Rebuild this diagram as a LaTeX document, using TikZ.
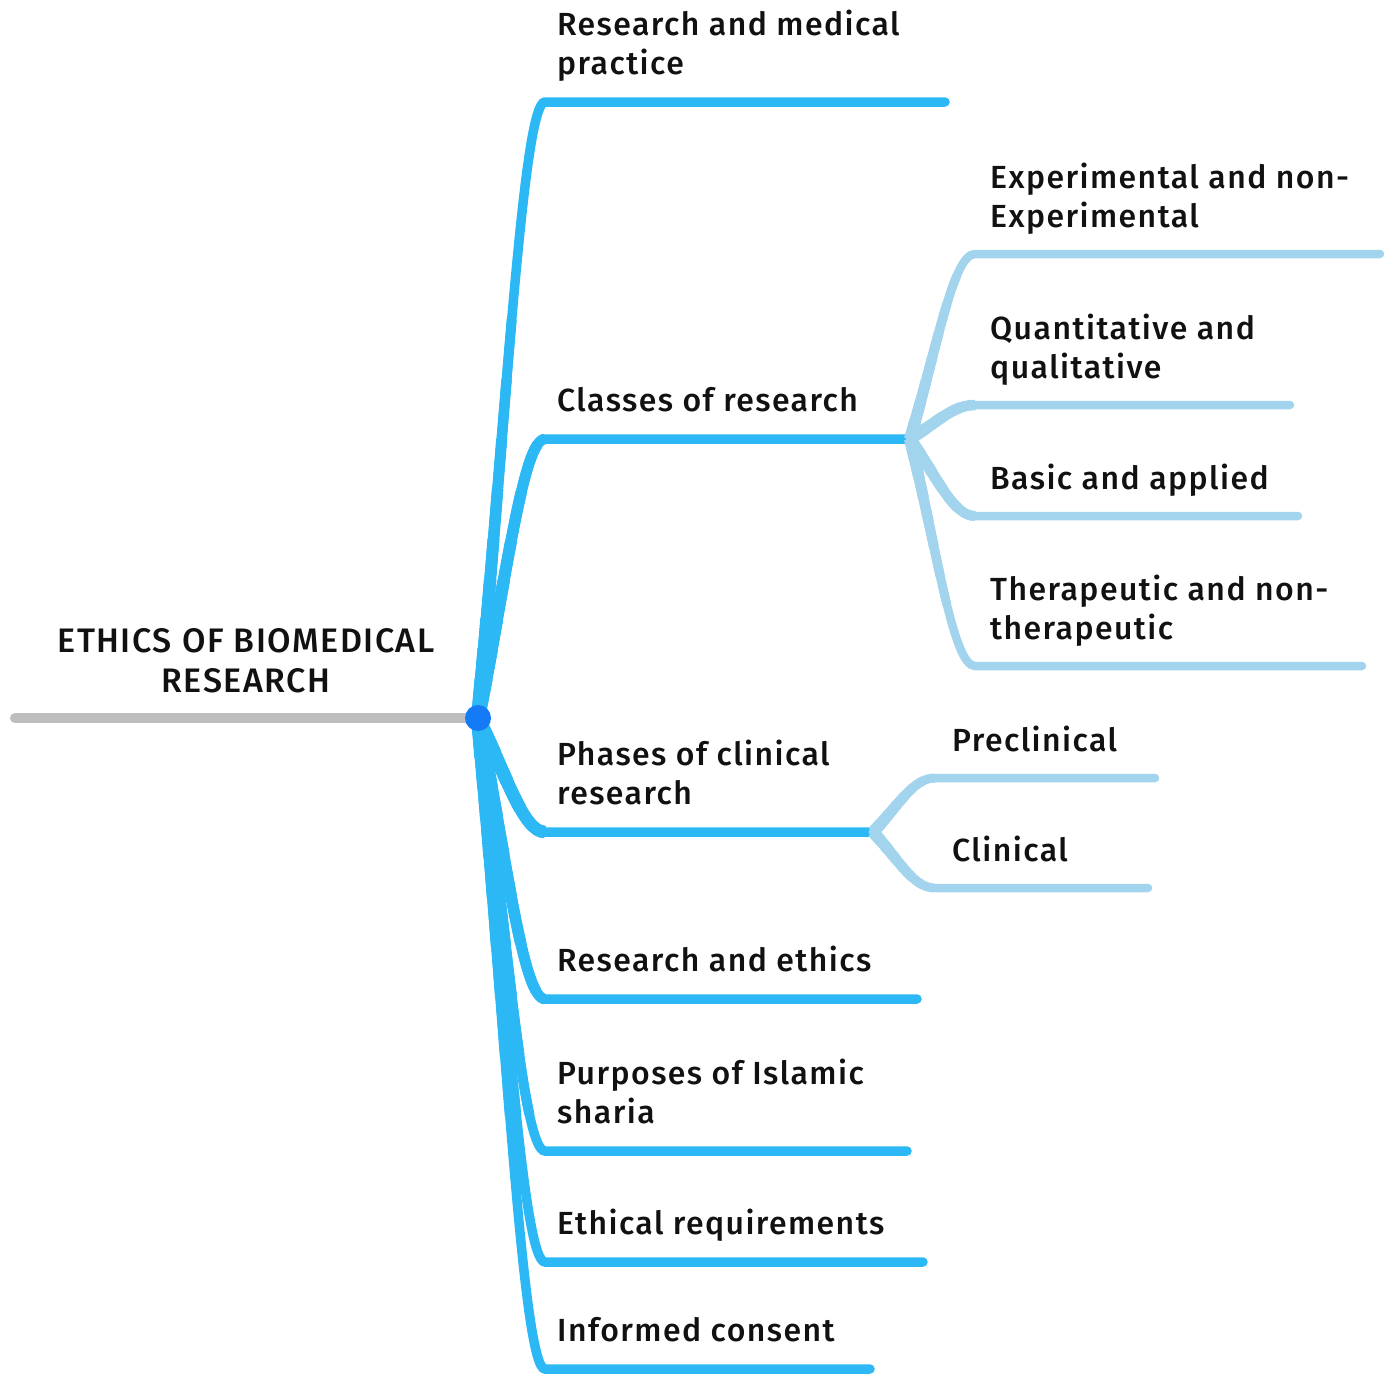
\documentclass[tikz,border=0pt]{standalone}
\usepackage{fontspec}
\IfFontExistsTF{Fira Sans Medium}{\setmainfont{Fira Sans Medium}[LetterSpace=4.5]%
    \def\lblsize{32}\def\rootsize{34}}{%
  \setmainfont{DejaVu Sans}\def\lblsize{30.5}\def\rootsize{32}}
\usetikzlibrary{calc}

\definecolor{branchblue}{RGB}{44,184,245}
\definecolor{subblue}{RGB}{163,212,238}
\definecolor{rootgray}{RGB}{190,190,190}
\definecolor{dotblue}{RGB}{20,122,245}
\definecolor{textblack}{RGB}{17,17,17}

\tikzset{
    rootline/.style={draw=rootgray, line width=10pt, line cap=round},
    mainline/.style={draw=branchblue, line width=9.5pt, line cap=round},
    subline/.style={draw=subblue, line width=8.5pt, line cap=round},
    taper/.style={line cap=butt, dash pattern=on #1 off 3000pt},
    lbl/.style={anchor=south west, inner sep=0pt, text depth=0pt, align=left,
        font=\fontsize{\lblsize}{39}\selectfont, text=textblack},
    rootlbl/.style={lbl, anchor=south, align=center, font=\fontsize{\rootsize}{40}\selectfont},
    rootdot/.style={circle, fill=dotblue, minimum size=26pt, inner sep=0pt},
    curve to/.style={to path={.. controls ($(\tikztostart)!0.5!(\tikztotarget)+(-5,0)$)
        and ($(\tikztotarget)+(-22,0)$) .. (\tikztotarget)}}
}

\begin{document}
\begin{tikzpicture}[x=1pt, y=-1pt]
    \useasboundingbox (0,0) rectangle (1394,1374);

    %Wurzel
    \coordinate (hub) at (478,718);
    \coordinate (rootend) at (15,718);
    \draw[rootline] (rootend) -- (hub);
    \node[rootlbl] (tRoot) at (246,693) {ETHICS OF BIOMEDICAL\\RESEARCH};

    %Hauptzweige
    \coordinate (bPractice) at (545,102);   \coordinate (ePractice) at (945,102);
    \coordinate (bClasses) at (545,439);    \coordinate (jClasses) at (910,439);
    \coordinate (bPhases) at (545,832);     \coordinate (jPhases) at (873,832);
    \coordinate (bEthics) at (545,999);     \coordinate (eEthics) at (917,999);
    \coordinate (bSharia) at (545,1151);    \coordinate (eSharia) at (907,1151);
    \coordinate (bReq) at (545,1262);       \coordinate (eReq) at (923,1262);
    \coordinate (bConsent) at (545,1369);   \coordinate (eConsent) at (870,1369);

    \foreach \b/\e in {Practice/ePractice, Classes/jClasses, Phases/jPhases, Ethics/eEthics,
                       Sharia/eSharia, Req/eReq, Consent/eConsent} {
        \draw[mainline] (hub) to[curve to] (b\b) -- (\e);
        \foreach \w/\l in {14/40pt, 13.5/70pt, 13/100pt, 12.5/140pt, 12/180pt,
                           11.5/230pt, 11/280pt, 10.5/340pt, 10/400pt}
            \draw[mainline, line width=\w pt, taper=\l] (hub) to[curve to] (b\b);
    }

    \node[lbl] (tPractice) at (557,75) {Research and medical\\practice};
    \node[lbl] (tClasses) at (557,412) {Classes of research};
    \node[lbl] (tPhases) at (557,805) {Phases of clinical\\research};
    \node[lbl] (tEthics) at (557,972) {Research and ethics};
    \node[lbl] (tSharia) at (557,1124) {Purposes of Islamic\\sharia};
    \node[lbl] (tReq) at (557,1235) {Ethical requirements};
    \node[lbl] (tConsent) at (557,1342) {Informed consent};

    %Unterzweige Klassen
    \coordinate (bExp) at (975,254);        \coordinate (eExp) at (1380,254);
    \coordinate (bQuant) at (975,405);      \coordinate (eQuant) at (1290,405);
    \coordinate (bBasic) at (975,516);      \coordinate (eBasic) at (1298,516);
    \coordinate (bThera) at (975,666);      \coordinate (eThera) at (1362,666);

    \foreach \b in {Exp, Quant, Basic, Thera} {
        \draw[subline] (jClasses) to[curve to] (b\b) -- (e\b);
        \foreach \w/\l in {12/20pt, 11.5/40pt, 11/60pt, 10.5/85pt, 10/110pt, 9.5/140pt, 9/170pt}
            \draw[subline, line width=\w pt, taper=\l] (jClasses) to[curve to] (b\b);
    }

    \node[lbl] (tExp) at (990,228) {Experimental and non-\\Experimental};
    \node[lbl] (tQuant) at (990,379) {Quantitative and\\qualitative};
    \node[lbl] (tBasic) at (990,490) {Basic and applied};
    \node[lbl] (tThera) at (990,640) {Therapeutic and non-\\therapeutic};

    %Unterzweige Phasen
    \coordinate (bPre) at (935,778);        \coordinate (ePre) at (1155,778);
    \coordinate (bClin) at (935,888);       \coordinate (eClin) at (1148,888);

    \foreach \b in {Pre, Clin} {
        \draw[subline] (jPhases) to[curve to] (b\b) -- (e\b);
        \foreach \w/\l in {12/12pt, 11.5/24pt, 11/36pt, 10.5/48pt, 10/60pt, 9.5/72pt, 9/84pt}
            \draw[subline, line width=\w pt, taper=\l] (jPhases) to[curve to] (b\b);
    }

    \node[lbl] (tPre) at (952,752) {Preclinical};
    \node[lbl] (tClin) at (952,862) {Clinical};

    %Knoten
    \node[rootdot] (dot) at (hub) {};
\end{tikzpicture}
\end{document}
